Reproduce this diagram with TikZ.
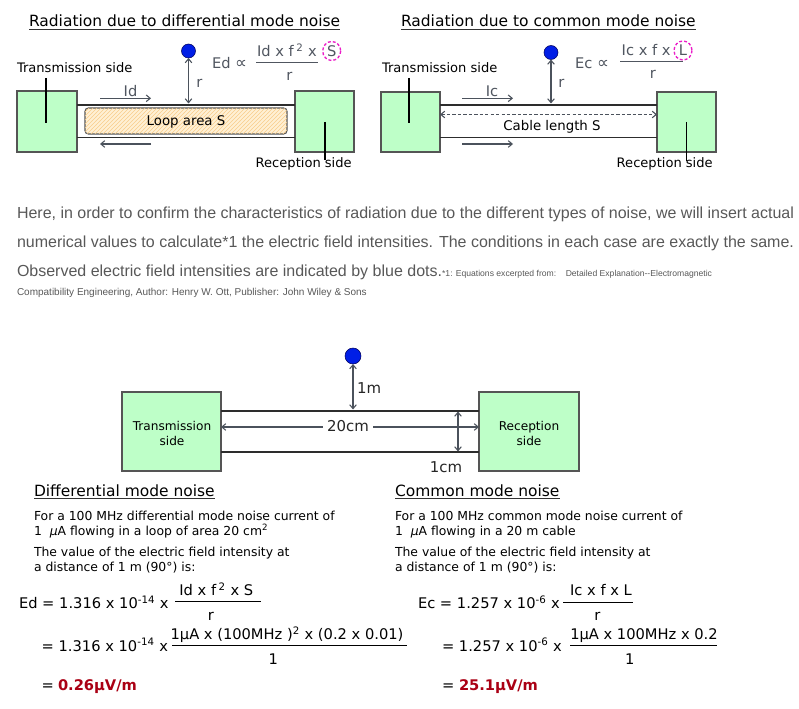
\documentclass[tikz,border=0pt]{standalone}
\usepackage{fontspec}
\setmainfont{DejaVu Sans}
\newfontfamily\parafont{Liberation Sans}
\usetikzlibrary{arrows.meta,patterns}
\definecolor{boxgreen}{RGB}{190,255,200}
\definecolor{boxedge}{RGB}{85,85,85}
\definecolor{wirec}{RGB}{45,45,45}
\definecolor{arrgray}{RGB}{75,82,92}
\definecolor{fgray}{RGB}{80,86,96}
\definecolor{partxt}{RGB}{88,88,88}
\definecolor{resred}{RGB}{170,0,20}
\definecolor{dotblue}{RGB}{0,30,230}
\definecolor{dotedge}{RGB}{0,0,90}
\definecolor{pinkc}{RGB}{235,30,200}
\definecolor{loopfill}{RGB}{255,240,212}
\definecolor{loophatch}{RGB}{248,205,140}
\def\pxu{0.75pt}
\newcommand\fsz[1]{\fontsize{#1}{#1}\selectfont}
\begin{document}
\begin{tikzpicture}[x=0.75pt,y=-0.75pt,
  every node/.style={inner sep=0pt,outer sep=0pt},
  bb/.tip={Straight Barb[length=3pt,width=5pt]},
  gbox/.style={draw=boxedge,fill=boxgreen,line width=0.8pt},
  wire/.style={draw=wirec,line width=1.2pt},
  ptr/.style={draw=black,line width=1pt},
  garr/.style={draw=arrgray,line width=0.8pt,-{bb}},
  gdarr/.style={draw=arrgray,line width=0.8pt,{bb}-{bb}},
  bdot/.style={circle,fill=dotblue,draw=dotedge,line width=0.4pt},
  ttl/.style={anchor=base west,font=\fsz{11.6}},
  uline/.style={draw=black!80,line width=0.8pt},
  lbl/.style={anchor=base west,font=\fsz{9.8}},
  clbl/.style={anchor=base,font=\fsz{10}},
  glbl/.style={anchor=base,font=\fsz{11},text=fgray},
  frm/.style={anchor=base west,font=\fsz{11},text=fgray},
  fbar/.style={draw=fgray,line width=0.8pt},
  pinkdash/.style={draw=pinkc,line width=1pt,dash pattern=on 2.2pt off 1.5pt},
  loopbox/.style={draw=boxedge,line width=0.8pt,rounded corners=2.5pt,fill=loopfill,
     postaction={pattern=north east lines,pattern color=loophatch}},
  para/.style={anchor=base west,font=\parafont\fsz{12},text=partxt},
  fnote/.style={anchor=base west,font=\parafont\fsz{6.45},text=partxt},
  fnoteb/.style={anchor=base west,font=\parafont\fsz{7.5},text=partxt},
  mtxt/.style={anchor=base,font=\fsz{9.1}},
  mdim/.style={font=\fsz{11.2},text=black!85},
  desc/.style={anchor=base west,font=\fsz{9.3}},
  eq/.style={anchor=base west,font=\fsz{11}},
  eqc/.style={anchor=base,font=\fsz{11}},
  ebar/.style={draw=black,line width=0.8pt},
  res/.style={anchor=base west,font=\bfseries\fsz{11},text=resred}
]
\useasboundingbox (0,0) rectangle (799,709);

% ================= top left: differential mode =================
\node[ttl] (t1) at (29,26.5) {Radiation due to differential mode noise};
\draw[uline] ([yshift=-3*\pxu]t1.base west) -- ([yshift=-3*\pxu]t1.base east);

\node[gbox,minimum width=60*\pxu,minimum height=61*\pxu] (tlL) at (47,121.5) {};
\node[gbox,minimum width=59*\pxu,minimum height=61*\pxu] (tlR) at (324.5,121.5) {};
\coordinate (tlwt) at (0,105);
\coordinate (tlwb) at (0,137.5);
\draw[wire] (tlL.east |- tlwt) -- (tlR.west |- tlwt);
\draw[wire] (tlL.east |- tlwb) -- (tlR.west |- tlwb);
\node[loopbox,minimum width=202*\pxu,minimum height=26*\pxu] (loop) at (186,121) {};
\node[clbl] (loopT) at (186,126) {Loop area S};

\node[lbl] (tlTx) at (17,72.7) {Transmission side};
\coordinate (tlp1) at (46,78);
\coordinate (tlp2) at (46,123);
\draw[ptr] (tlp1) -- (tlp2);
\node[lbl] (tlRx) at (255.7,167.7) {Reception side};
\coordinate (tlq1) at (325,122);
\coordinate (tlq2) at (325,160);
\draw[ptr] (tlq1) -- (tlq2);

\coordinate (tlia) at (100,98.3);
\coordinate (tlib) at (151,98.3);
\draw[garr] (tlia) -- (tlib);
\node[glbl] (tlId) at (130.5,96.5) {Id};
\coordinate (tlic) at (151,144);
\coordinate (tlid) at (100,144);
\draw[garr] (tlic) -- (tlid);

\node[bdot,minimum size=14*\pxu] (tlDot) at (188.5,51) {};
\draw[gdarr] (tlDot.south) -- ([yshift=1.5*\pxu]tlDot.south |- tlwt);
\node[glbl] (tlr) at (199.5,87.3) {r};

\node[frm] (tlE) at (212,68.3) {Ed \fsz{12.5}∝};
\node[frm] (tlN) at (257,56.7) {Id x f\,\textsuperscript{2} x};
\node[glbl] (tlS) at (331.7,56.7) {S};
\draw[pinkdash] (331.7,51) ellipse [x radius=9,y radius=9.5];
\coordinate (tlba) at (256,62.3);
\coordinate (tlbb) at (318.3,62.3);
\draw[fbar] (tlba) -- (tlbb);
\node[glbl] (tlD) at (289.3,81) {r};

% ================= top right: common mode =================
\node[ttl] (t2) at (401,26.5) {Radiation due to common mode noise};
\draw[uline] ([yshift=-3*\pxu]t2.base west) -- ([yshift=-3*\pxu]t2.base east);

\node[gbox,minimum width=59*\pxu,minimum height=60*\pxu] (trL) at (410.5,122) {};
\node[gbox,minimum width=59*\pxu,minimum height=60*\pxu] (trR) at (686.5,122) {};
\coordinate (trwt) at (0,105);
\coordinate (trwb) at (0,137.5);
\coordinate (trwd) at (0,114.5);
\draw[wire] (trL.east |- trwt) -- (trR.west |- trwt);
\draw[wire] (trL.east |- trwb) -- (trR.west |- trwb);
\draw[gdarr,dash pattern=on 2.5pt off 1.6pt] (trL.east |- trwd) -- (trR.west |- trwd);
\node[clbl] (trCl) at (552,131) {Cable length S};

\node[lbl] (trTx) at (382,72.7) {Transmission side};
\coordinate (trp1) at (409,78);
\coordinate (trp2) at (409,123);
\draw[ptr] (trp1) -- (trp2);
\node[lbl] (trRx) at (616.7,167.7) {Reception side};
\coordinate (trq1) at (686.7,122);
\coordinate (trq2) at (686.7,161);
\draw[ptr] (trq1) -- (trq2);

\coordinate (tria) at (462,98.3);
\coordinate (trib) at (513,98.3);
\draw[garr] (tria) -- (trib);
\node[glbl] (trIc) at (492,96.5) {Ic};
\coordinate (tric) at (462,144);
\coordinate (trid) at (513,144);
\draw[garr] (tric) -- (trid);

\node[bdot,minimum size=14*\pxu] (trDot) at (551,52.5) {};
\draw[gdarr] (trDot.south) -- ([yshift=1.5*\pxu]trDot.south |- trwt);
\node[glbl] (trr) at (561.5,88) {r};

\node[frm] (trE) at (575,68.3) {Ec \fsz{12.5}∝};
\node[frm] (trN) at (621.7,55.7) {Ic x f x};
\node[glbl] (trS) at (683,55.7) {L};
\draw[pinkdash] (683,50.5) ellipse [x radius=9,y radius=9.5];
\coordinate (trba) at (620,61.7);
\coordinate (trbb) at (683.3,61.7);
\draw[fbar] (trba) -- (trbb);
\node[glbl] (trD) at (653,78.3) {r};

% ================= paragraph =================
\node[para] (p1) at (17,218.5) {Here, in order to confirm the characteristics of radiation due to the different types of noise, we will insert actual};
\node[para] (p2) at (17,247.5) {numerical values to calculate*1 the electric field intensities. The conditions in each case are exactly the same.};
\node[para] (p3) at (17,276.5) {Observed electric field intensities are indicated by blue dots.};
\node[fnote] (p3f) at (p3.base east) {*1: Equations excerpted from:\ \ \ \ Detailed Explanation--Electromagnetic};
\node[fnoteb] (p4) at (17,296) {Compatibility Engineering, Author: Henry W. Ott, Publisher: John Wiley \& Sons};

% ================= middle diagram =================
\node[bdot,minimum size=16*\pxu] (mDot) at (353,356) {};
\node[gbox,minimum width=99*\pxu,minimum height=79*\pxu] (mL) at (171.5,431.5) {};
\node[gbox,minimum width=100*\pxu,minimum height=79*\pxu] (mR) at (529,431.5) {};
\coordinate (mwt) at (0,411);
\coordinate (mwb) at (0,452);
\coordinate (mwh) at (0,427);
\draw[wire] (mL.east |- mwt) -- (mR.west |- mwt);
\draw[wire] (mL.east |- mwb) -- (mR.west |- mwb);
\draw[gdarr] (mDot.south) -- ([yshift=1.5*\pxu]mDot.south |- mwt);
\node[mdim,anchor=base west] (m1m) at (357,393.5) {1m};
\draw[gdarr] (mL.east |- mwh) -- (mR.west |- mwh);
\node[mdim,anchor=base,fill=white,inner xsep=4.5*\pxu,inner ysep=1pt] (m20) at (348,431.7) {20cm};
\coordinate (mva) at (458,411.5);
\coordinate (mvb) at (458,451.5);
\draw[gdarr] (mva) -- (mvb);
\node[mdim,anchor=base] (m1cm) at (446,472.7) {1cm};
\node[mtxt] (mLt1) at (172,430) {Transmission};
\node[mtxt] (mLt2) at (172,445) {side};
\node[mtxt] (mRt1) at (529,430) {Reception};
\node[mtxt] (mRt2) at (529,445) {side};

% ================= bottom left =================
\node[anchor=base west,font=\fsz{11.6}] (dh) at (34,496) {Differential mode noise};
\draw[uline] ([yshift=-2.5*\pxu]dh.base west) -- ([yshift=-2.5*\pxu]dh.base east);
\node[desc] (dd1) at (34,520.7) {For a 100 MHz differential mode noise current of};
\node[desc] (dd2) at (34,535.7) {1\ \ \textit{μ}A flowing in a loop of area 20 cm\textsuperscript{2}};
\node[desc] (dd3) at (34,556) {The value of the electric field intensity at};
\node[desc] (dd4) at (34,571) {a distance of 1 m (90°) is:};

\node[eq] (de1) at (19,608.3) {Ed = 1.316 x 10\textsuperscript{-14} x};
\node[eqc] (den1) at (216.3,595.7) {Id x f\,\textsuperscript{2} x S};
\coordinate (dba) at (175,601.7);
\coordinate (dbb) at (261,601.7);
\draw[ebar] (dba) -- (dbb);
\node[eqc] (ded1) at (211,620) {r};
\node[eq] (de2) at (41.7,651) {= 1.316 x 10\textsuperscript{-14} x};
\node[eqc] (den2) at (287,639.3) {1μA x (100MHz )\textsuperscript{2} x (0.2 x 0.01)};
\coordinate (dbc) at (172,645.7);
\coordinate (dbd) at (407,645.7);
\draw[ebar] (dbc) -- (dbd);
\node[eqc] (ded2) at (273.3,664) {1};
\node[eq] (de3) at (41.7,690) {=};
\node[res] (der) at (58,690) {0.26μV/m};

% ================= bottom right =================
\node[anchor=base west,font=\fsz{11.6}] (ch) at (395,496) {Common mode noise};
\draw[uline] ([yshift=-2.5*\pxu]ch.base west) -- ([yshift=-2.5*\pxu]ch.base east);
\node[desc] (cd1) at (395,520.7) {For a 100 MHz common mode noise current of};
\node[desc] (cd2) at (395,535.7) {1\ \ \textit{μ}A flowing in a 20 m cable};
\node[desc] (cd3) at (395,556) {The value of the electric field intensity at};
\node[desc] (cd4) at (395,571) {a distance of 1 m (90°) is:};

\node[eq] (ce1) at (418,608.3) {Ec = 1.257 x 10\textsuperscript{-6} x};
\node[eqc] (cen1) at (601,595.7) {Ic x f x L};
\coordinate (cba) at (563,602.7);
\coordinate (cbb) at (633,602.7);
\draw[ebar] (cba) -- (cbb);
\node[eqc] (ced1) at (597.5,620) {r};
\node[eq] (ce2) at (442,651) {= 1.257 x 10\textsuperscript{-6} x};
\node[eqc] (cen2) at (644,639.3) {1μA x 100MHz x 0.2};
\coordinate (cbc) at (570,645.7);
\coordinate (cbd) at (717,645.7);
\draw[ebar] (cbc) -- (cbd);
\node[eqc] (ced2) at (629.7,664) {1};
\node[eq] (ce3) at (442,690) {=};
\node[res] (cer) at (459,690) {25.1μV/m};
\end{tikzpicture}
\end{document}
